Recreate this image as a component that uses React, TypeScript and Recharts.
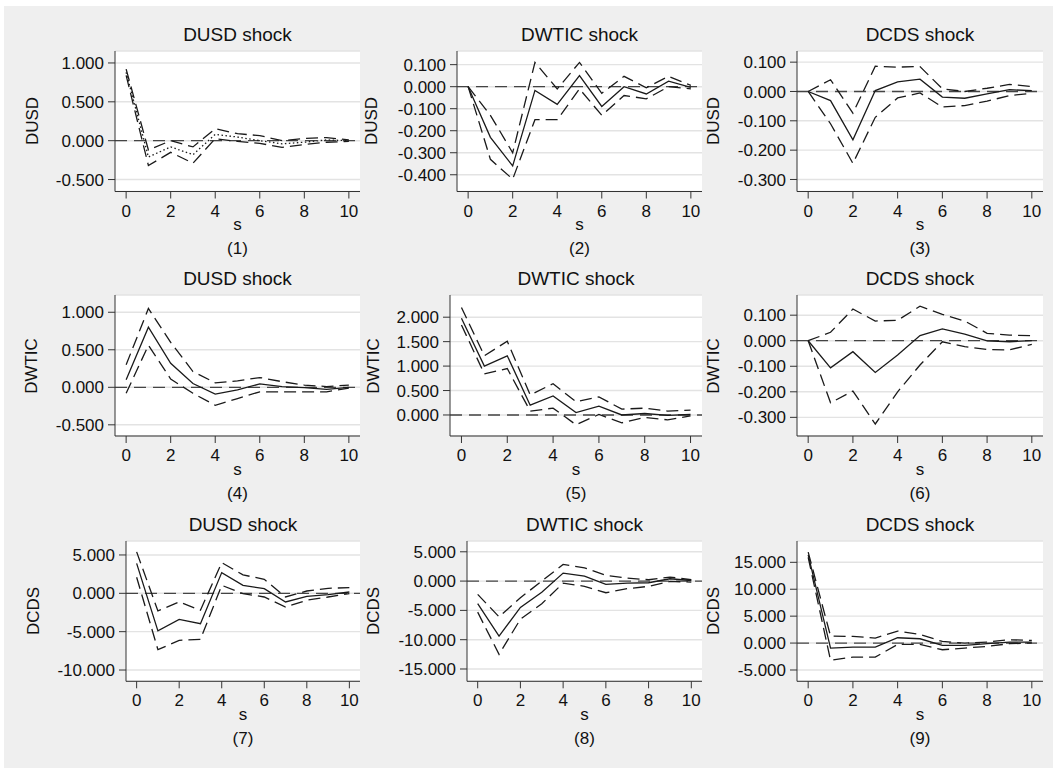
import { CartesianGrid, Line, LineChart, ReferenceLine, XAxis, YAxis } from "recharts";

// horizon steps
const steps = [0, 1, 2, 3, 4, 5, 6, 7, 8, 9, 10];
const xTicks = [0, 2, 4, 6, 8, 10];

// (1) DUSD shock -> DUSD
const p1Irf = [0.88, -0.21, -0.08, -0.18, 0.08, 0.047, 0.0, -0.04, -0.02, 0.01, 0.0];
const p1Lo = [0.84, -0.32, -0.15, -0.29, 0.026, -0.01, -0.035, -0.085, -0.05, -0.02, -0.01];
const p1Hi = [0.92, -0.12, 0.0, -0.08, 0.154, 0.09, 0.065, 0.0, 0.03, 0.04, 0.01];

// (2) DWTIC shock -> DUSD
const p2Irf = [0, -0.23, -0.36, -0.017, -0.08, 0.05, -0.09, 0.0, -0.033, 0.025, -0.003];
const p2Lo = [0, -0.33, -0.42, -0.15, -0.15, -0.01, -0.13, -0.04, -0.055, 0.0, -0.01];
const p2Hi = [0, -0.13, -0.3, 0.11, -0.01, 0.11, -0.03, 0.047, -0.005, 0.047, 0.006];

// (3) DCDS shock -> DUSD
const p3Irf = [0, -0.031, -0.165, 0.003, 0.033, 0.042, -0.019, -0.023, -0.008, 0.006, 0.003];
const p3Lo = [0, -0.11, -0.245, -0.088, -0.022, -0.005, -0.053, -0.048, -0.033, -0.014, -0.006];
const p3Hi = [0, 0.04, -0.074, 0.086, 0.083, 0.085, 0.009, 0.0, 0.011, 0.024, 0.017];

// (4) DUSD shock -> DWTIC
const p4Irf = [0.1, 0.8, 0.32, 0.05, -0.09, -0.035, 0.045, 0.01, -0.005, -0.027, 0];
const p4Lo = [-0.08, 0.56, 0.11, -0.08, -0.24, -0.15, -0.06, -0.06, -0.06, -0.06, -0.01];
const p4Hi = [0.3, 1.05, 0.6, 0.21, 0.06, 0.085, 0.13, 0.075, 0.03, 0.01, 0.03];

// (5) DWTIC shock -> DWTIC
const p5Irf = [1.98, 1.0, 1.21, 0.2, 0.39, 0.05, 0.18, 0.0, 0.03, -0.01, 0.01];
const p5Lo = [1.84, 0.84, 0.95, 0.08, 0.14, -0.2, 0.01, -0.16, -0.05, -0.1, -0.02];
const p5Hi = [2.2, 1.21, 1.51, 0.41, 0.64, 0.27, 0.37, 0.12, 0.14, 0.08, 0.1];

// (6) DCDS shock -> DWTIC
const p6Irf = [0, -0.106, -0.043, -0.124, -0.056, 0.02, 0.046, 0.026, -0.001, -0.004, 0];
const p6Lo = [0, -0.243, -0.197, -0.326, -0.2, -0.095, -0.004, -0.023, -0.034, -0.036, -0.014];
const p6Hi = [0, 0.033, 0.124, 0.077, 0.08, 0.135, 0.103, 0.077, 0.029, 0.022, 0.02];

// (7) DUSD shock -> DCDS
const p7Irf = [3.9, -4.9, -3.4, -3.96, 2.7, 1.04, 0.6, -1.13, -0.4, -0.17, 0.17];
const p7Lo = [2.1, -7.35, -6.13, -6.0, 1.04, -0.04, -0.48, -1.78, -0.9, -0.48, -0.04];
const p7Hi = [5.4, -2.3, -1.13, -2.2, 4.0, 2.4, 1.83, -0.48, 0.3, 0.65, 0.74];

// (8) DWTIC shock -> DCDS
const p8Irf = [-3.86, -9.4, -4.5, -1.9, 1.36, 0.85, -0.57, -0.34, -0.28, 0.4, 0.1];
const p8Lo = [-5.3, -12.5, -6.5, -3.86, -0.34, -0.9, -1.99, -1.3, -0.9, -0.06, -0.17];
const p8Hi = [-2.27, -6.1, -2.84, 0, 2.84, 2.27, 0.97, 0.51, 0.23, 0.68, 0.23];

// (9) DCDS shock -> DCDS
const p9Irf = [16.4, -0.93, -0.74, -0.74, 0.99, 0.8, -0.43, -0.43, -0.12, 0.19, 0.19];
const p9Lo = [15.9, -3.2, -2.6, -2.6, -0.25, -0.25, -1.24, -0.93, -0.62, -0.12, 0];
const p9Hi = [16.9, 1.3, 1.24, 0.93, 2.23, 1.6, 0.3, 0, 0.19, 0.62, 0.5];

const panels = [
  { n: 1, shock: "DUSD shock", resp: "DUSD", irf: p1Irf, lo: p1Lo, hi: p1Hi, domain: [-0.654, 1.154], ticks: [-0.5, 0, 0.5, 1], dotted: true },
  { n: 2, shock: "DWTIC shock", resp: "DUSD", irf: p2Irf, lo: p2Lo, hi: p2Hi, domain: [-0.476, 0.162], ticks: [-0.4, -0.3, -0.2, -0.1, 0, 0.1] },
  { n: 3, shock: "DCDS shock", resp: "DUSD", irf: p3Irf, lo: p3Lo, hi: p3Hi, domain: [-0.341, 0.138], ticks: [-0.3, -0.2, -0.1, 0, 0.1] },
  { n: 4, shock: "DUSD shock", resp: "DWTIC", irf: p4Irf, lo: p4Lo, hi: p4Hi, domain: [-0.649, 1.23], ticks: [-0.5, 0, 0.5, 1] },
  { n: 5, shock: "DWTIC shock", resp: "DWTIC", irf: p5Irf, lo: p5Lo, hi: p5Hi, domain: [-0.43, 2.454], ticks: [0, 0.5, 1, 1.5, 2] },
  { n: 6, shock: "DCDS shock", resp: "DWTIC", irf: p6Irf, lo: p6Lo, hi: p6Hi, domain: [-0.373, 0.179], ticks: [-0.3, -0.2, -0.1, 0, 0.1] },
  { n: 7, shock: "DUSD shock", resp: "DCDS", irf: p7Irf, lo: p7Lo, hi: p7Hi, domain: [-11.47, 6.82], ticks: [-10, -5, 0, 5] },
  { n: 8, shock: "DWTIC shock", resp: "DCDS", irf: p8Irf, lo: p8Lo, hi: p8Hi, domain: [-17.1, 6.84], ticks: [-15, -10, -5, 0, 5] },
  { n: 9, shock: "DCDS shock", resp: "DCDS", irf: p9Irf, lo: p9Lo, hi: p9Hi, domain: [-7.1, 18.96], ticks: [-5, 0, 5, 10, 15] },
];

// plot-area boxes, same order as panels
const boxes = [
  { left: 115, right: 360, top: 50.5, bottom: 191, labelX: 32 },
  { left: 457, right: 702, top: 50.5, bottom: 191, labelX: 371 },
  { left: 797, right: 1043, top: 50.5, bottom: 191, labelX: 713 },
  { left: 115, right: 360, top: 295, bottom: 436, labelX: 31 },
  { left: 450, right: 702, top: 295, bottom: 436, labelX: 373 },
  { left: 797, right: 1043, top: 295, bottom: 436, labelX: 713 },
  { left: 126, right: 360, top: 540.7, bottom: 681, labelX: 33 },
  { left: 467, right: 702, top: 540.7, bottom: 681, labelX: 373 },
  { left: 797, right: 1043, top: 540.7, bottom: 681, labelX: 713 },
];

const AXIS_W = 80;
const PAD_TOP = 10;
const XAXIS_H = 40;
const INK = "#1a1a1a";

const Txt = ({ x, y, size, rotate, children }: any) => (
  <div
    style={{
      position: "absolute",
      left: x,
      top: y,
      transform: `translate(-50%, -50%)${rotate ? " rotate(-90deg)" : ""}`,
      fontSize: size,
      lineHeight: 1,
      whiteSpace: "nowrap",
      color: "#111",
    }}
  >
    {children}
  </div>
);

const Panel = ({ p, box }: any) => {
  const data = steps.map((s, i) => ({ s, irf: p.irf[i], lo: p.lo[i], hi: p.hi[i] }));
  const plotW = box.right - box.left;
  const plotH = box.bottom - box.top;
  const cx = (box.left + box.right) / 2;

  return (
    <>
      <Txt x={cx} y={box.top - 17} size={19}>{p.shock}</Txt>
      <Txt x={box.labelX} y={(box.top + box.bottom) / 2} size={17} rotate>{p.resp}</Txt>
      <Txt x={cx} y={box.bottom + 33} size={17}>s</Txt>
      <Txt x={cx} y={box.bottom + 57} size={17}>({p.n})</Txt>
      <div style={{ position: "absolute", left: box.left - AXIS_W, top: box.top - PAD_TOP }}>
        <LineChart
          width={AXIS_W + plotW}
          height={PAD_TOP + plotH + XAXIS_H}
          data={data}
          margin={{ top: PAD_TOP, right: 0, bottom: 0, left: 0 }}
        >
          <CartesianGrid vertical={false} fill="#ffffff" stroke="#e3e3e3" strokeWidth={1.4} />
          <XAxis
            type="number"
            dataKey="s"
            domain={[-0.5, 10.5]}
            ticks={xTicks}
            interval={0}
            allowDataOverflow
            height={XAXIS_H}
            tickSize={7}
            tickMargin={6}
            stroke="#333"
            tick={{ fill: "#111", fontSize: 17 }}
          />
          <YAxis
            type="number"
            domain={p.domain}
            ticks={p.ticks}
            interval={0}
            allowDataOverflow
            width={AXIS_W}
            tickSize={7}
            tickMargin={4}
            stroke="#333"
            tick={{ fill: "#111", fontSize: 17 }}
            tickFormatter={(v: number) => v.toFixed(3)}
          />
          <ReferenceLine y={0} stroke="#444" strokeWidth={1.3} strokeDasharray="12 7" />
          <Line dataKey="hi" stroke={INK} strokeWidth={1.3} strokeDasharray="12 6" dot={false} isAnimationActive={false} />
          <Line dataKey="lo" stroke={INK} strokeWidth={1.3} strokeDasharray="12 6" dot={false} isAnimationActive={false} />
          <Line
            dataKey="irf"
            stroke={INK}
            strokeWidth={1.3}
            strokeDasharray={p.dotted ? "1.5 2.5" : undefined}
            dot={false}
            isAnimationActive={false}
          />
        </LineChart>
      </div>
    </>
  );
};

export default function App() {
  return (
    <div
      style={{
        position: "absolute",
        left: 0,
        top: 0,
        width: 1057,
        height: 771,
        background: "#ffffff",
        fontFamily: "'Liberation Sans', Arial, sans-serif",
      }}
    >
      <div style={{ position: "absolute", left: 4, top: 6, width: 1049, height: 762, background: "#efefef" }} />
      {panels.map((p, i) => (
        <Panel key={p.n} p={p} box={boxes[i]} />
      ))}
    </div>
  );
}
